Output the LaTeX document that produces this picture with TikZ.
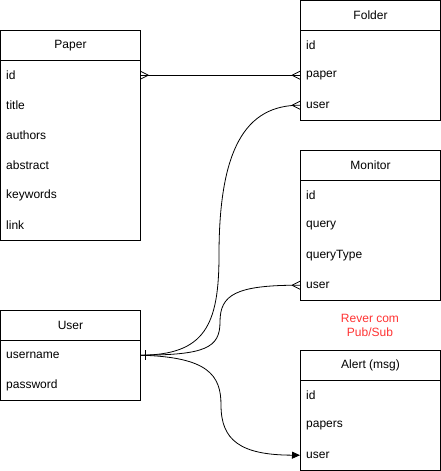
\documentclass[tikz,border=0pt]{standalone}
\usepackage{fontspec}
\setmainfont{Liberation Sans}
\usetikzlibrary{fit,arrows.meta}
\definecolor{warnred}{HTML}{FF3333}
\tikzset{
  hdr/.style={draw, line width=1pt, minimum width=140pt, minimum height=30pt, inner sep=0pt, anchor=north west, font=\fontsize{12}{14}\selectfont},
  row/.style={minimum width=140pt, minimum height=30pt, text width=128pt, inner xsep=6pt, inner ysep=0pt, align=left, anchor=north west, font=\fontsize{12}{14}\selectfont},
  body/.style={draw, line width=1pt, inner sep=0pt},
  conn/.style={line width=0.8pt},
  note/.style={text=warnred, align=center, font=\fontsize{12}{14}\selectfont}
}
\begin{document}
\begin{tikzpicture}[x=1pt,y=-1pt]
\useasboundingbox (0,0) rectangle (441,471);
% Paper
\node[hdr] (paperh) at (0,30) {Paper};
\node[row] (paperid) at (0,60) {id};
\node[row] (papertitle) at (0,90) {title};
\node[row] (paperauthors) at (0,120) {authors};
\node[row] (paperabstract) at (0,150) {abstract};
\node[row] (paperkeywords) at (0,180) {keywords};
\node[row] (paperlink) at (0,210) {link};
\node[body, fit=(paperid)(paperlink)] (paperb) {};
% Folder
\node[hdr] (folderh) at (300,0) {Folder};
\node[row] (folderid) at (300,30) {id};
\node[row] (folderpaper) at (300,60) {paper};
\node[row] (folderuser) at (300,90) {user};
\node[body, fit=(folderid)(folderuser)] (folderb) {};
% Monitor
\node[hdr] (monh) at (300,150) {Monitor};
\node[row] (monid) at (300,180) {id};
\node[row] (monquery) at (300,210) {query};
\node[row] (monqtype) at (300,240) {queryType};
\node[row] (monuser) at (300,270) {user};
\node[body, fit=(monid)(monuser)] (monb) {};
% User
\node[hdr] (userh) at (0,310) {User};
\node[row] (username) at (0,340) {username};
\node[row] (userpass) at (0,370) {password};
\node[body, fit=(username)(userpass)] (userb) {};
% Alert
\node[hdr] (alerth) at (300,350) {Alert (msg)};
\node[row] (alertid) at (300,380) {id};
\node[row] (alertpapers) at (300,410) {papers};
\node[row] (alertuser) at (300,440) {user};
\node[body, fit=(alertid)(alertuser)] (alertb) {};
% note
\node[note] (note) at (370,325) {Rever com\\Pub/Sub};
% connectors
\draw[conn] (paperid.east) -- (folderpaper.west);
\draw[conn] ([xshift=8pt]paperid.east) -- ([yshift=4pt]paperid.east)
            ([xshift=8pt]paperid.east) -- ([yshift=-4pt]paperid.east);
\draw[conn] ([xshift=-8pt]folderpaper.west) -- ([yshift=4pt]folderpaper.west)
            ([xshift=-8pt]folderpaper.west) -- ([yshift=-4pt]folderpaper.west);
% user -> folder
\draw[conn] (username.east) .. controls (205,355) and (219,325) .. (219,255)
            .. controls (219,150) and (245,105) .. (folderuser.west);
\draw[conn] ([xshift=-8pt]folderuser.west) -- ([yshift=4pt]folderuser.west)
            ([xshift=-8pt]folderuser.west) -- ([yshift=-4pt]folderuser.west);
% user -> monitor
\draw[conn] (username.east) .. controls (205,355) and (220,348) .. (220,322)
            .. controls (220,295) and (235,285) .. (monuser.west);
\draw[conn] ([xshift=-8pt]monuser.west) -- ([yshift=4pt]monuser.west)
            ([xshift=-8pt]monuser.west) -- ([yshift=-4pt]monuser.west);
% user -> alert
\draw[conn, -{Triangle[length=8pt,width=7pt]}] (username.east) .. controls (208,357) and (221,375) .. (221,405)
            .. controls (221,440) and (240,455) .. (alertuser.west);
% one mark
\draw[conn] ([xshift=5pt,yshift=5pt]username.east) -- ([xshift=5pt,yshift=-5pt]username.east);
\end{tikzpicture}
\end{document}
